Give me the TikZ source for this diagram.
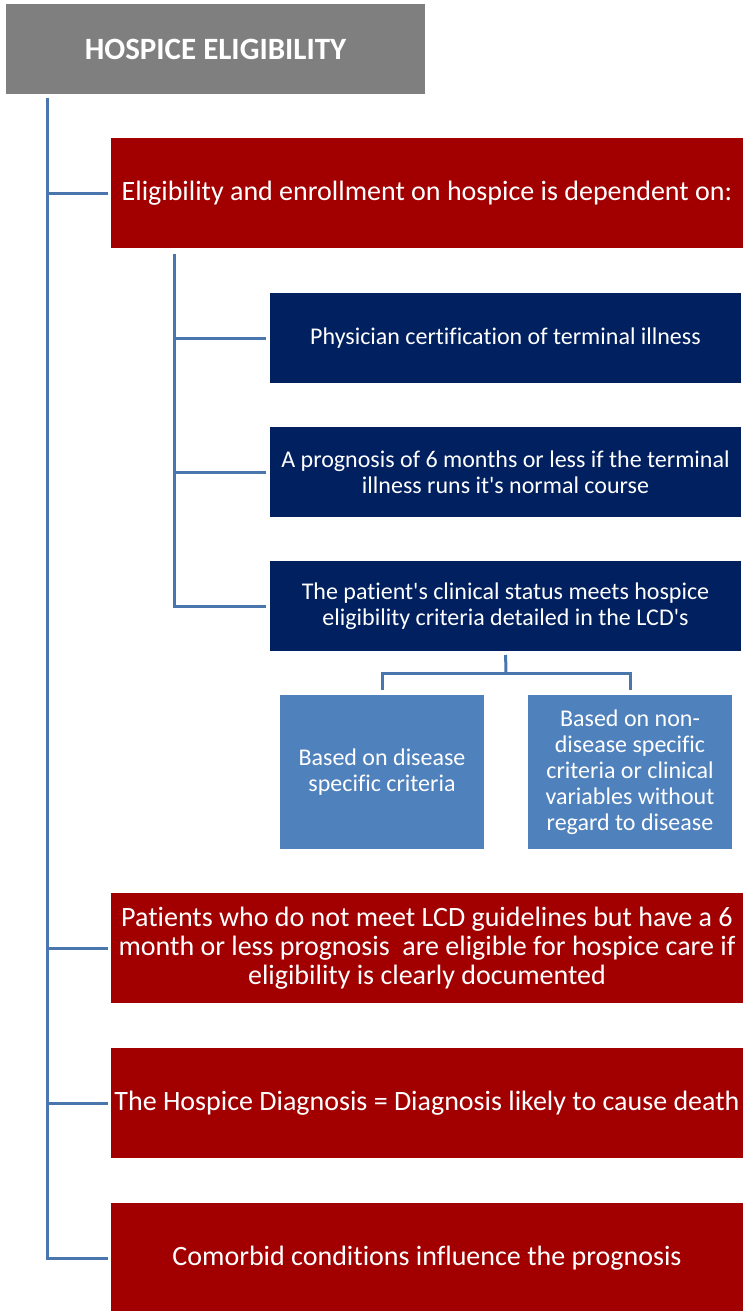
\documentclass[tikz,border=0pt]{standalone}
\usepackage{fontspec}
\setmainfont{Carlito}[Ligatures={TeXOff,CommonOff}]
\usetikzlibrary{positioning}

\definecolor{hgray}{HTML}{7F7F7F}
\definecolor{hred}{HTML}{A20000}
\definecolor{hnavy}{HTML}{002060}
\definecolor{hblue}{HTML}{4F81BD}
\definecolor{hline}{HTML}{4A76AE}

\begin{document}
\begin{tikzpicture}[x=1pt,y=-1pt,
    box/.style={inner sep=0pt,outer sep=0pt,text=white,align=center},
    titlebox/.style={box,fill=hgray,minimum width=419pt,minimum height=90pt,font=\fontsize{31}{36}\selectfont\bfseries},
    redbox/.style={box,fill=hred,minimum width=632pt,minimum height=110pt,font=\fontsize{28}{29}\selectfont},
    navybox/.style={box,fill=hnavy,minimum width=471pt,minimum height=90pt,font=\fontsize{24}{26}\selectfont},
    bluebox/.style={box,fill=hblue,minimum width=204pt,minimum height=154pt,font=\fontsize{24}{26}\selectfont},
    link/.style={draw=hline,line width=3pt}]
  \useasboundingbox (0,0) rectangle (743,1311);

  \node[titlebox] (title) at (215.5,49) {HOSPICE ELIGIBILITY};

  % main items
  \node[redbox] (elig)   at (427,193)  {Eligibility and enrollment on hospice is dependent on:};
  \node[redbox] (lcdg)   at (427,948)  {Patients who do not meet LCD guidelines but have a 6\\month or less prognosis~ are eligible for hospice care if\\eligibility is clearly documented};
  \node[redbox] (diag)   at (427,1103) {The Hospice Diagnosis = Diagnosis likely to cause death};
  \node[redbox] (comorb) at (427,1258) {Comorbid conditions influence the prognosis};

  % what eligibility depends on
  \node[navybox] (phys) at (505.5,338) {Physician certification of terminal illness};
  \node[navybox] (prog) at (505.5,472) {A prognosis of 6 months or less if the terminal\\illness runs it's normal course};
  \node[navybox] (lcd)  at (505.5,606) {The patient's clinical status meets hospice\\eligibility criteria detailed in the LCD's};

  \node[bluebox] (dis)    at (382,772) {Based on disease\\specific criteria};
  \node[bluebox] (nondis) at (630,772) {Based on non-\\disease specific\\criteria or clinical\\variables without\\regard to disease};

  % connectors
  \coordinate (trunk) at (47,98);
  \coordinate (sub) at (174,254);
  \coordinate (fork) at (506,673);

  \foreach \n in {elig,lcdg,diag,comorb}
    \draw[link,shorten >=3pt] (trunk) |- (\n.west);
  \foreach \n in {phys,prog,lcd}
    \draw[link,shorten >=4pt] (sub) |- (\n.west);
  \draw[link,shorten <=4pt] (lcd.south) -- (fork);
  \draw[link,shorten >=5pt] (fork) -| (dis.north);
  \draw[link,shorten >=5pt] (fork) -| (nondis.north);
\end{tikzpicture}
\end{document}
